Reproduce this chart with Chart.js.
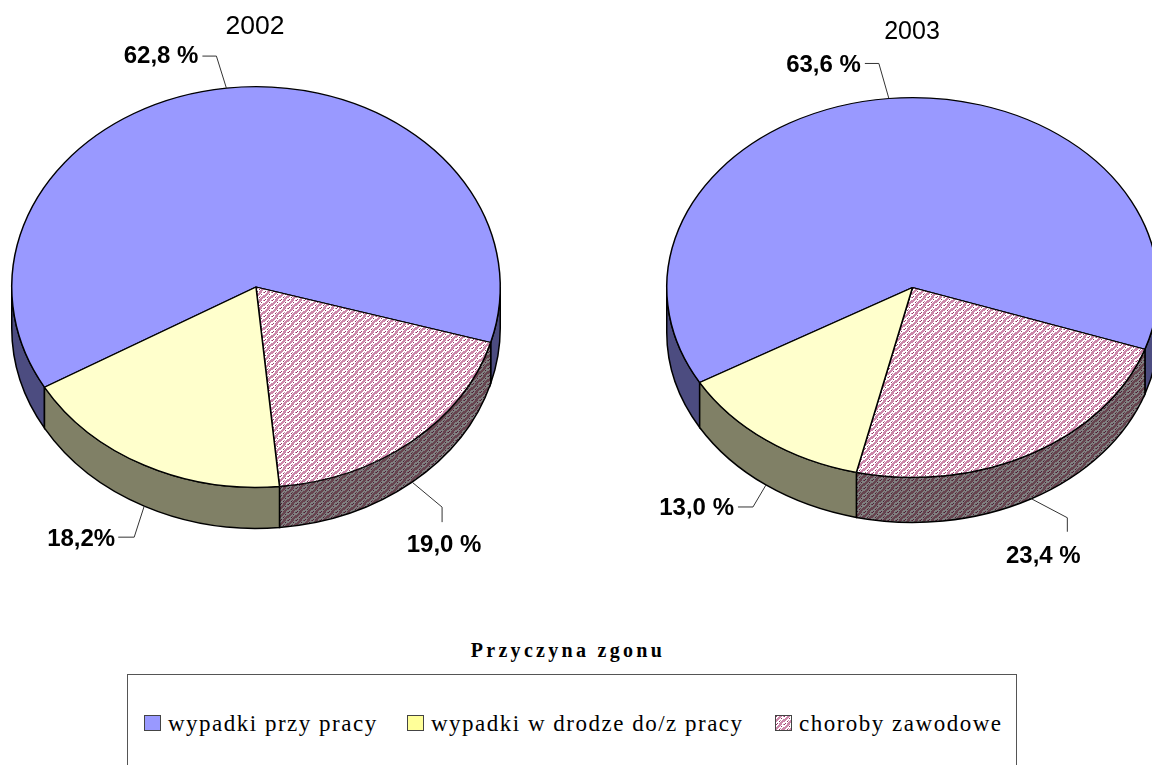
<!DOCTYPE html>
<html>
<head>
<meta charset="utf-8">
<script src="https://cdn.jsdelivr.net/npm/chart.js@4"></script>
<style>
  html, body { margin: 0; padding: 0; background: #fff; }
  body { position: relative; width: 1152px; height: 765px; overflow: hidden; }
  canvas.pie { position: absolute; top: 0; }
  #legendTitle { position: absolute; left: 368px; width: 400px; top: 639px; text-align: center;
    font: bold 20px "Liberation Serif"; letter-spacing: 3.3px; color: #000; }
  #legendBox { position: absolute; left: 127px; top: 674px; width: 890px; height: 120px;
    border: 1px solid #555; box-sizing: border-box; }
  .item { position: absolute; top: 712px; height: 24px; font: 23px/24px "Liberation Serif";
    letter-spacing: 1.5px; color: #000; white-space: nowrap; }
  .swatch { position: absolute; top: 715px; width: 17px; height: 16px; box-sizing: border-box; border: 1px solid #444; }
</style>
</head>
<body>
<canvas id="pie2002" class="pie" width="512" height="600" style="left:0"></canvas>
<canvas id="pie2003" class="pie" width="540" height="600" style="left:640px"></canvas>
<div id="legendTitle">Przyczyna zgonu</div>
<div id="legendBox"></div>
<div id="legend"></div>
<script>
// slices go clockwise starting from the blue one
const categories = ["wypadki przy pracy", "choroby zawodowe", "wypadki w drodze do/z pracy"];
const values2002 = [62.8, 19.0, 18.2];
const values2003 = [63.6, 23.4, 13.0];
const labels2002 = ["62,8 %", "19,0 %", "18,2%"];
const labels2003 = ["63,6 %", "23,4 %", "13,0 %"];

// Excel style 8x8 fill
const weave = [
  "d..ppp.p",
  "..ppp...",
  ".ppp.d..",
  "ppp....p",
  "pp..p.pp",
  "p..d.ppp",
  "....ppp.",
  ".d.ppp.."
];

function makeTile(bg, light, dark) {
  const c = document.createElement("canvas");
  c.width = c.height = 8;
  const g = c.getContext("2d");
  g.fillStyle = bg;
  g.fillRect(0, 0, 8, 8);
  weave.forEach((row, y) => {
    [...row].forEach((ch, x) => {
      if (ch === ".") return;
      g.fillStyle = ch === "d" ? dark : light;
      g.fillRect(x, y, 1, 1);
    });
  });
  return c;
}

const tileTop = makeTile("#ffffff", "#cc88aa", "#993366");
const tileWall = makeTile("#808080", "#66444f", "#4c1933");

const tilted = {
  id: "tilted",
  beforeDatasetsDraw(chart, args, opts) {
    const ctx = chart.ctx;
    const arcs = chart.getDatasetMeta(0).data;
    ctx.imageSmoothingEnabled = false;
    arcs.forEach((arc, i) => {
      const p = arc.getProps(["x", "y", "startAngle", "endAngle", "outerRadius"], true);
      const ry = p.outerRadius * opts.squash;
      // only the part of the rim in the front half shows
      for (const base of [0, Math.PI * 2]) {
        const a0 = Math.max(p.startAngle, base);
        const a1 = Math.min(p.endAngle, base + Math.PI);
        if (a1 <= a0) continue;
        ctx.beginPath();
        ctx.ellipse(p.x, p.y, p.outerRadius, ry, 0, a0, a1);
        ctx.ellipse(p.x, p.y + opts.depth, p.outerRadius, ry, 0, a1, a0, true);
        ctx.closePath();
        ctx.fillStyle = opts.wallColors[i];
        ctx.fill();
        ctx.lineWidth = 1.5;
        ctx.strokeStyle = "#000";
        ctx.stroke();
      }
    });
    ctx.save();
    const c = arcs[0];
    ctx.translate(c.x, c.y);
    ctx.scale(1, opts.squash);
    ctx.translate(-c.x, -c.y);
  },
  afterDatasetsDraw(chart, args, opts) {
    chart.ctx.restore();
    const ctx = chart.ctx;
    const arcs = chart.getDatasetMeta(0).data;
    ctx.fillStyle = "#000";
    ctx.strokeStyle = "#333";
    ctx.lineWidth = 1;
    arcs.forEach((arc, i) => {
      const p = arc.getProps(["x", "y", "startAngle", "endAngle", "outerRadius"], true);
      const mid = (p.startAngle + p.endAngle) / 2;
      const ax = p.x + Math.cos(mid) * p.outerRadius;
      let ay = p.y + Math.sin(mid) * p.outerRadius * opts.squash;
      if (Math.sin(mid) > 0) ay += opts.depth;
      const l = opts.leaders[i];
      ctx.beginPath();
      ctx.moveTo(ax, ay);
      ctx.lineTo(ax + l.elbow[0], ay + l.elbow[1]);
      ctx.lineTo(ax + l.end[0], ay + l.end[1]);
      ctx.stroke();
      ctx.font = 'bold 24px "Liberation Sans"';
      ctx.textAlign = l.align;
      ctx.textBaseline = "alphabetic";
      ctx.fillText(opts.labels[i], ax + l.text[0], ay + l.text[1]);
    });
    ctx.font = opts.titleSize + 'px "Liberation Sans"';
    ctx.textAlign = "center";
    ctx.fillText(opts.title, opts.titleX, opts.titleY);
  }
};

function drawPie(id, values, labels, cfg) {
  const squash = cfg.squash;
  const topFill = document.createElement("canvas").getContext("2d").createPattern(tileTop, "repeat");
  topFill.setTransform(new DOMMatrix().scale(1, 1 / squash));
  const wallFill = document.createElement("canvas").getContext("2d").createPattern(tileWall, "repeat");
  return new Chart(document.getElementById(id), {
    type: "pie",
    data: {
      labels: categories,
      datasets: [{
        data: values,
        backgroundColor: ["#9999ff", topFill, "#ffffcc"],
        borderColor: "#000",
        borderWidth: 1.5,
        clip: false
      }]
    },
    options: {
      responsive: false,
      animation: false,
      events: [],
      rotation: 240,
      layout: { padding: cfg.padding },
      plugins: {
        legend: { display: false },
        tooltip: { enabled: false },
        tilted: {
          squash,
          depth: cfg.depth,
          wallColors: ["#4c4c80", wallFill, "#808066"],
          labels,
          leaders: cfg.leaders,
          title: cfg.title,
          titleX: cfg.titleX,
          titleY: cfg.titleY,
          titleSize: cfg.titleSize
        }
      }
    },
    plugins: [tilted]
  });
}

drawPie("pie2002", values2002, labels2002, {
  title: "2002", titleX: 255, titleY: 34, titleSize: 26.5,
  squash: 201 / 245,
  depth: 41,
  padding: { left: 11, right: 11, top: 42, bottom: 68 },
  leaders: [
    { elbow: [-10, -32], end: [-24, -32], text: [-28, -25], align: "right" },
    { elbow: [30, 25], end: [30, 40], text: [32, 70], align: "center" },
    { elbow: [-10, 31], end: [-26, 31], text: [-29, 40], align: "right" }
  ]
});

drawPie("pie2003", values2003, labels2003, {
  title: "2003", titleX: 272, titleY: 39, titleSize: 25,
  squash: 190.5 / 246.5,
  depth: 45,
  padding: { left: 26, right: 21, top: 41, bottom: 66 },
  leaders: [
    { elbow: [-10, -35], end: [-24, -35], text: [-28, -26], align: "right" },
    { elbow: [36, 19], end: [36, 33], text: [12, 64], align: "center" },
    { elbow: [-13, 22], end: [-28, 22], text: [-32, 30], align: "right" }
  ]
});

// legend keeps the order of the original sheet
const legendOrder = [0, 2, 1];
const legendX = [144, 407, 775];
const legendFill = ["#9999ff", "#ffff99", "url(" + tileTop.toDataURL() + ")"];
const legendDiv = document.getElementById("legend");
legendOrder.forEach((cat, i) => {
  const sw = document.createElement("div");
  sw.className = "swatch";
  sw.style.left = legendX[i] + "px";
  sw.style.background = legendFill[i];
  legendDiv.appendChild(sw);
  const tx = document.createElement("div");
  tx.className = "item";
  tx.style.left = legendX[i] + 24 + "px";
  tx.textContent = categories[cat];
  legendDiv.appendChild(tx);
});
</script>
</body>
</html>
